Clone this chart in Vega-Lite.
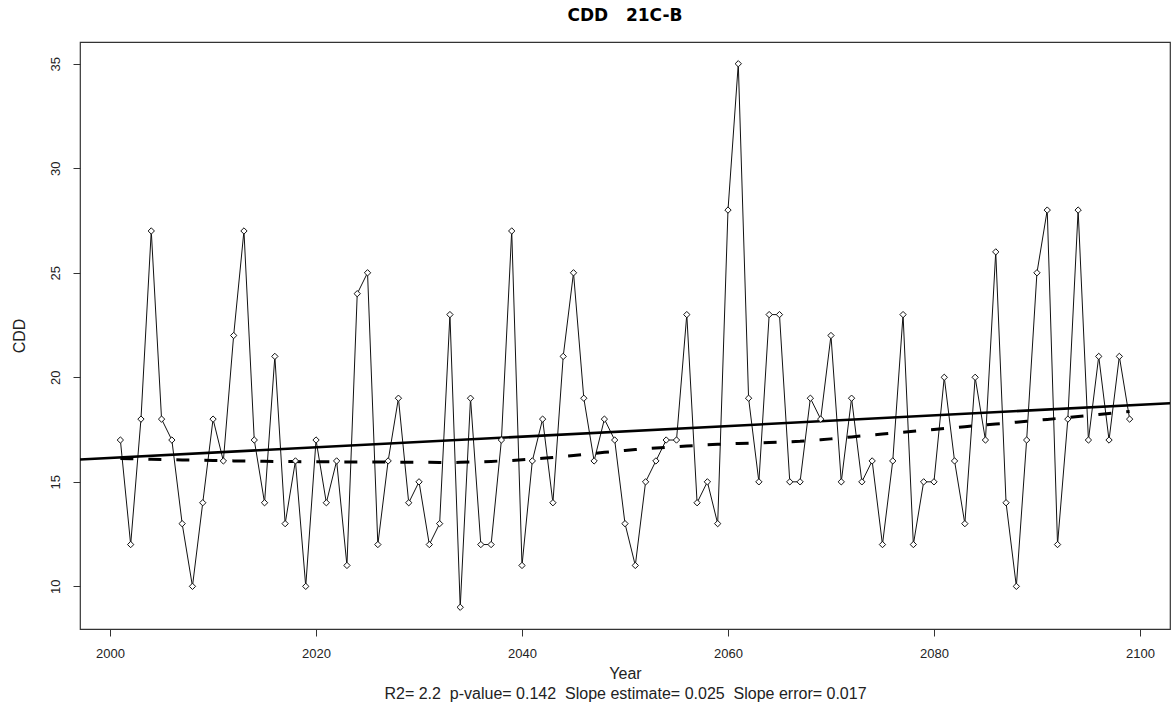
{
  "$schema": "https://vega.github.io/schema/vega-lite/v6.json",
  "autosize": "none",
  "width": 1090,
  "height": 587,
  "padding": {"left": 80, "top": 42, "right": 3, "bottom": 76},
  "background": "white",
  "title": {"text": "CDD\u00a0\u00a0\u00a021C-B", "font": "DejaVu Sans", "fontSize": 17, "fontWeight": "bold", "color": "black", "anchor": "middle", "offset": 17},
  "config": {
    "view": {"stroke": "#333333", "strokeWidth": 1.2},
    "axis": {"grid": false, "domain": false, "tickColor": "#333333", "tickSize": 7, "labelFont": "Liberation Sans", "labelFontSize": 13, "labelColor": "#222222", "titleFont": "Liberation Sans", "titleFontSize": 16, "titleFontWeight": "normal", "titleColor": "#222222"}
  },
  "data": {"values": [
    {"Year": 2001, "CDD": 17}, {"Year": 2002, "CDD": 12}, {"Year": 2003, "CDD": 18}, {"Year": 2004, "CDD": 27}, {"Year": 2005, "CDD": 18},
    {"Year": 2006, "CDD": 17}, {"Year": 2007, "CDD": 13}, {"Year": 2008, "CDD": 10}, {"Year": 2009, "CDD": 14}, {"Year": 2010, "CDD": 18},
    {"Year": 2011, "CDD": 16}, {"Year": 2012, "CDD": 22}, {"Year": 2013, "CDD": 27}, {"Year": 2014, "CDD": 17}, {"Year": 2015, "CDD": 14},
    {"Year": 2016, "CDD": 21}, {"Year": 2017, "CDD": 13}, {"Year": 2018, "CDD": 16}, {"Year": 2019, "CDD": 10}, {"Year": 2020, "CDD": 17},
    {"Year": 2021, "CDD": 14}, {"Year": 2022, "CDD": 16}, {"Year": 2023, "CDD": 11}, {"Year": 2024, "CDD": 24}, {"Year": 2025, "CDD": 25},
    {"Year": 2026, "CDD": 12}, {"Year": 2027, "CDD": 16}, {"Year": 2028, "CDD": 19}, {"Year": 2029, "CDD": 14}, {"Year": 2030, "CDD": 15},
    {"Year": 2031, "CDD": 12}, {"Year": 2032, "CDD": 13}, {"Year": 2033, "CDD": 23}, {"Year": 2034, "CDD": 9}, {"Year": 2035, "CDD": 19},
    {"Year": 2036, "CDD": 12}, {"Year": 2037, "CDD": 12}, {"Year": 2038, "CDD": 17}, {"Year": 2039, "CDD": 27}, {"Year": 2040, "CDD": 11},
    {"Year": 2041, "CDD": 16}, {"Year": 2042, "CDD": 18}, {"Year": 2043, "CDD": 14}, {"Year": 2044, "CDD": 21}, {"Year": 2045, "CDD": 25},
    {"Year": 2046, "CDD": 19}, {"Year": 2047, "CDD": 16}, {"Year": 2048, "CDD": 18}, {"Year": 2049, "CDD": 17}, {"Year": 2050, "CDD": 13},
    {"Year": 2051, "CDD": 11}, {"Year": 2052, "CDD": 15}, {"Year": 2053, "CDD": 16}, {"Year": 2054, "CDD": 17}, {"Year": 2055, "CDD": 17},
    {"Year": 2056, "CDD": 23}, {"Year": 2057, "CDD": 14}, {"Year": 2058, "CDD": 15}, {"Year": 2059, "CDD": 13}, {"Year": 2060, "CDD": 28},
    {"Year": 2061, "CDD": 35}, {"Year": 2062, "CDD": 19}, {"Year": 2063, "CDD": 15}, {"Year": 2064, "CDD": 23}, {"Year": 2065, "CDD": 23},
    {"Year": 2066, "CDD": 15}, {"Year": 2067, "CDD": 15}, {"Year": 2068, "CDD": 19}, {"Year": 2069, "CDD": 18}, {"Year": 2070, "CDD": 22},
    {"Year": 2071, "CDD": 15}, {"Year": 2072, "CDD": 19}, {"Year": 2073, "CDD": 15}, {"Year": 2074, "CDD": 16}, {"Year": 2075, "CDD": 12},
    {"Year": 2076, "CDD": 16}, {"Year": 2077, "CDD": 23}, {"Year": 2078, "CDD": 12}, {"Year": 2079, "CDD": 15}, {"Year": 2080, "CDD": 15},
    {"Year": 2081, "CDD": 20}, {"Year": 2082, "CDD": 16}, {"Year": 2083, "CDD": 13}, {"Year": 2084, "CDD": 20}, {"Year": 2085, "CDD": 17},
    {"Year": 2086, "CDD": 26}, {"Year": 2087, "CDD": 14}, {"Year": 2088, "CDD": 10}, {"Year": 2089, "CDD": 17}, {"Year": 2090, "CDD": 25},
    {"Year": 2091, "CDD": 28}, {"Year": 2092, "CDD": 12}, {"Year": 2093, "CDD": 18}, {"Year": 2094, "CDD": 28}, {"Year": 2095, "CDD": 17},
    {"Year": 2096, "CDD": 21}, {"Year": 2097, "CDD": 17}, {"Year": 2098, "CDD": 21}, {"Year": 2099, "CDD": 18}
  ]},
  "encoding": {
    "x": {"field": "Year", "type": "quantitative",
      "scale": {"domain": [1997.08, 2102.92], "nice": false, "zero": false},
      "axis": {"values": [2000, 2020, 2040, 2060, 2080, 2100], "format": "d", "labelPadding": 11, "labelFlush": false,
        "title": ["Year", "R2= 2.2\u00a0 p-value= 0.142\u00a0 Slope estimate= 0.025\u00a0 Slope error= 0.017"], "titleLineHeight": 20, "titlePadding": 5}},
    "y": {"field": "CDD", "type": "quantitative",
      "scale": {"domain": [7.96, 36.04], "nice": false, "zero": false},
      "axis": {"values": [10, 15, 20, 25, 30, 35], "labelAngle": -90, "labelAlign": "center", "labelBaseline": "bottom", "labelPadding": 11, "labelFlush": false,
        "title": "CDD", "titlePadding": 22}}
  },
  "layer": [
    {"mark": {"type": "line", "color": "#111111", "strokeWidth": 1}},
    {"transform": [{"regression": "CDD", "on": "Year", "extent": [1997.08, 2102.92]}],
     "mark": {"type": "line", "color": "black", "strokeWidth": 2.6, "clip": true}},
    {"transform": [{"loess": "CDD", "on": "Year", "bandwidth": 0.6667}],
     "mark": {"type": "line", "color": "black", "strokeWidth": 3, "strokeDash": [13, 15]}},
    {"mark": {"type": "point", "shape": "diamond", "size": 40, "filled": true, "fill": "white", "stroke": "#111111", "strokeWidth": 1, "opacity": 1}}
  ]
}
